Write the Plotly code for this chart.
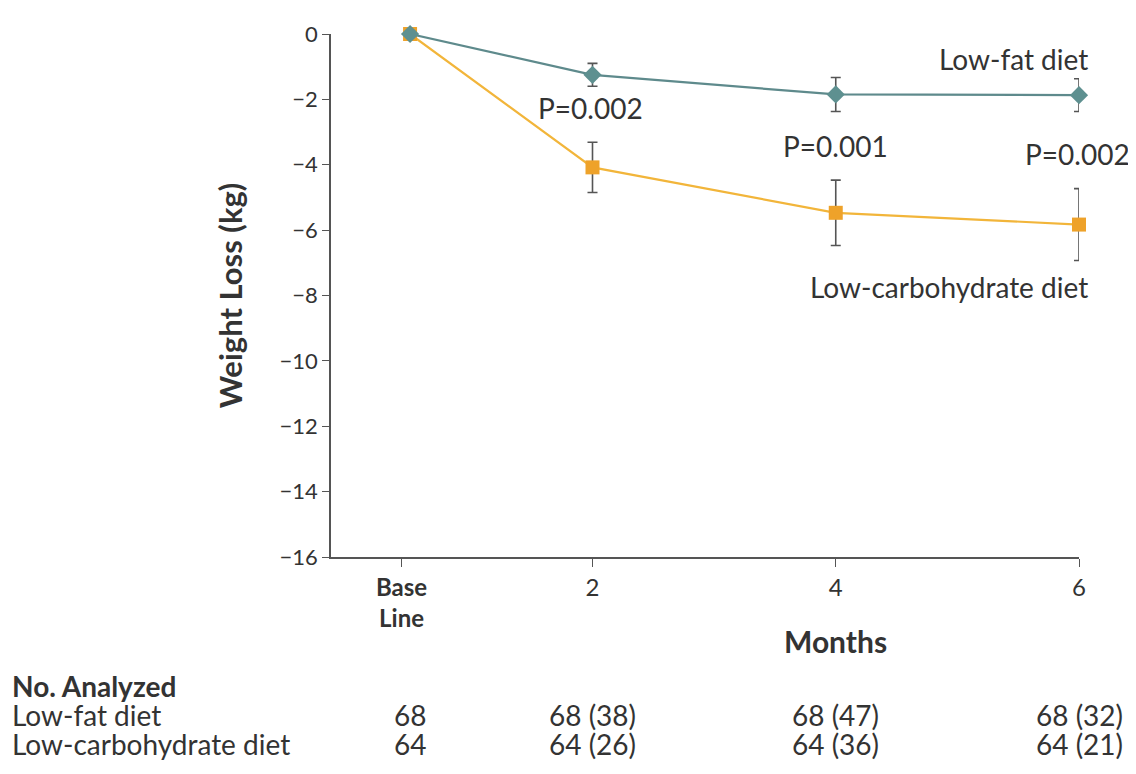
import plotly.graph_objects as go

# Data
months = [0.5, 2, 4, 6]
tick_positions = [0.43, 2, 4, 6]
tick_labels = ["<b>Base</b><br><b>Line</b>", "2", "4", "6"]

low_fat = [0, -1.25, -1.85, -1.87]
low_fat_err = [0, 0.35, 0.52, 0.5]
low_carb = [0, -4.08, -5.47, -5.83]
low_carb_err = [0, 0.77, 1.0, 1.1]

p_labels = ["P=0.002", "P=0.001", "P=0.002"]
p_x = [1.98, 4, 5.99]
p_y = [-2.27, -3.44, -3.66]

table_rows = ["Low-fat diet", "Low-carbohydrate diet"]
table_lowfat = ["68", "68 (38)", "68 (47)", "68 (32)"]
table_lowcarb = ["64", "64 (26)", "64 (36)", "64 (21)"]

FONT = "Lato"
TXT = "#333333"
AX = "#555555"
BIG = 28

fig = go.Figure()
fig.add_trace(go.Scatter(
    x=months, y=low_carb, mode="lines+markers",
    line=dict(color="#f2b53a", width=2.2),
    marker=dict(symbol="square", size=14, color="#eea22a"),
    error_y=dict(type="data", array=low_carb_err, color="#555555", thickness=1.6, width=5),
    cliponaxis=False, showlegend=False))
fig.add_trace(go.Scatter(
    x=months, y=low_fat, mode="lines+markers",
    line=dict(color="#5e8a8c", width=2.2),
    marker=dict(symbol="diamond", size=14, color="#5e9090"),
    error_y=dict(type="data", array=low_fat_err, color="#555555", thickness=1.6, width=5),
    cliponaxis=False, showlegend=False))

annotations = []
for t, x, y in zip(p_labels, p_x, p_y):
    annotations.append(dict(x=x, y=y, text=t, showarrow=False, xref="x", yref="y",
                            font=dict(size=BIG, color=TXT, family=FONT)))
annotations.append(dict(x=5.46, y=-0.75, text="Low-fat diet", showarrow=False,
                        font=dict(size=BIG, color=TXT, family=FONT)))
annotations.append(dict(x=4.93, y=-7.73, text="Low-carbohydrate diet", showarrow=False,
                        font=dict(size=BIG, color=TXT, family=FONT)))
annotations.append(dict(x=4, xref="x", y=-0.160, yref="paper", yanchor="middle",
                        text="<b>Months</b>", showarrow=False,
                        font=dict(size=30, color=TXT, family=FONT)))

# Table below the plot
left = -321 / 748
annotations.append(dict(xref="paper", x=left, xanchor="left", y=-0.247, yref="paper",
                        yanchor="middle", text="<b>No. Analyzed</b>", showarrow=False,
                        font=dict(size=BIG, color=TXT, family=FONT)))
row_y = [-0.302, -0.357]
for name, vals, ry in zip(table_rows, [table_lowfat, table_lowcarb], row_y):
    annotations.append(dict(xref="paper", x=left, xanchor="left", y=ry, yref="paper",
                            yanchor="middle", text=name, showarrow=False,
                            font=dict(size=BIG, color=TXT, family=FONT)))
    for xv, v in zip(months, vals):
        annotations.append(dict(x=xv, xref="x", y=ry, yref="paper", yanchor="middle",
                                text=v, showarrow=False,
                                font=dict(size=BIG, color=TXT, family=FONT)))

fig.update_layout(
    width=1128, height=758, autosize=False,
    margin=dict(l=323, r=57, t=19, b=209),
    plot_bgcolor="white", paper_bgcolor="white",
    font=dict(family=FONT, color=TXT, size=21),
    annotations=annotations,
    xaxis=dict(range=[-0.15, 6], tickvals=tick_positions, ticktext=tick_labels,
               showgrid=False, zeroline=False, showline=True, linecolor=AX, linewidth=1.6,
               ticks="outside", ticklen=8, tickcolor=AX, tickwidth=1.4,
               tickfont=dict(size=24, color=TXT, family=FONT)),
    yaxis=dict(range=[-16, 0], tickvals=list(range(0, -17, -2)),
               ticktext=["0"] + ["\u2212" + str(v) for v in range(2, 17, 2)],
               showgrid=False, zeroline=False, showline=True, linecolor=AX, linewidth=1.6,
               ticks="outside", ticklen=7, tickcolor=AX, tickwidth=1.4,
               tickfont=dict(size=22, color=TXT, family=FONT),
               title=dict(text="<b>Weight Loss (kg)</b>", standoff=28,
                          font=dict(size=31, color=TXT, family=FONT))),
)

fig.write_html("out.html")
